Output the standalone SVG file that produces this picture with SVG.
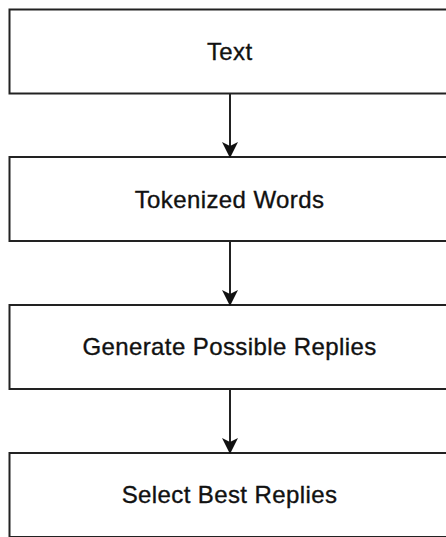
<svg xmlns="http://www.w3.org/2000/svg" width="446" height="537" viewBox="0 0 446 537">
<defs>
<style>
.box{fill:#ffffff;stroke:#222222;stroke-width:2}
.lbl{font-family:"Liberation Sans",Arial,sans-serif;font-size:24px;fill:#111111;stroke:#111111;stroke-width:0.35;text-anchor:middle;letter-spacing:0.4px}
.conn{stroke:#222222;stroke-width:2;fill:none}
</style>
<marker id="arr" markerWidth="16" markerHeight="18" refX="14" refY="8" orient="auto" markerUnits="userSpaceOnUse" viewBox="0 0 16 16">
<path d="M0,0 L16,8 L0,16 L4,8 Z" fill="#111111"/>
</marker>
</defs>
<rect width="446" height="537" fill="#ffffff"/>
<g id="node-text"><rect class="box" x="9.5" y="9.5" width="442" height="84"/><text class="lbl" x="229.7" y="59.5">Text</text></g>
<g id="node-tokenized"><rect class="box" x="9.5" y="157" width="442" height="84"/><text class="lbl" x="229.5" y="207.5">Tokenized Words</text></g>
<g id="node-generate"><rect class="box" x="9.5" y="305" width="442" height="84"/><text class="lbl" x="229.5" y="355">Generate Possible Replies</text></g>
<g id="node-select"><rect class="box" x="9.5" y="453" width="442" height="84"/><text class="lbl" x="229.5" y="503">Select Best Replies</text></g>
<g id="connectors">
<line class="conn" x1="230" y1="94" x2="230" y2="156" marker-end="url(#arr)"/>
<line class="conn" x1="230" y1="242" x2="230" y2="304" marker-end="url(#arr)"/>
<line class="conn" x1="230" y1="390" x2="230" y2="452" marker-end="url(#arr)"/>
</g>
</svg>
